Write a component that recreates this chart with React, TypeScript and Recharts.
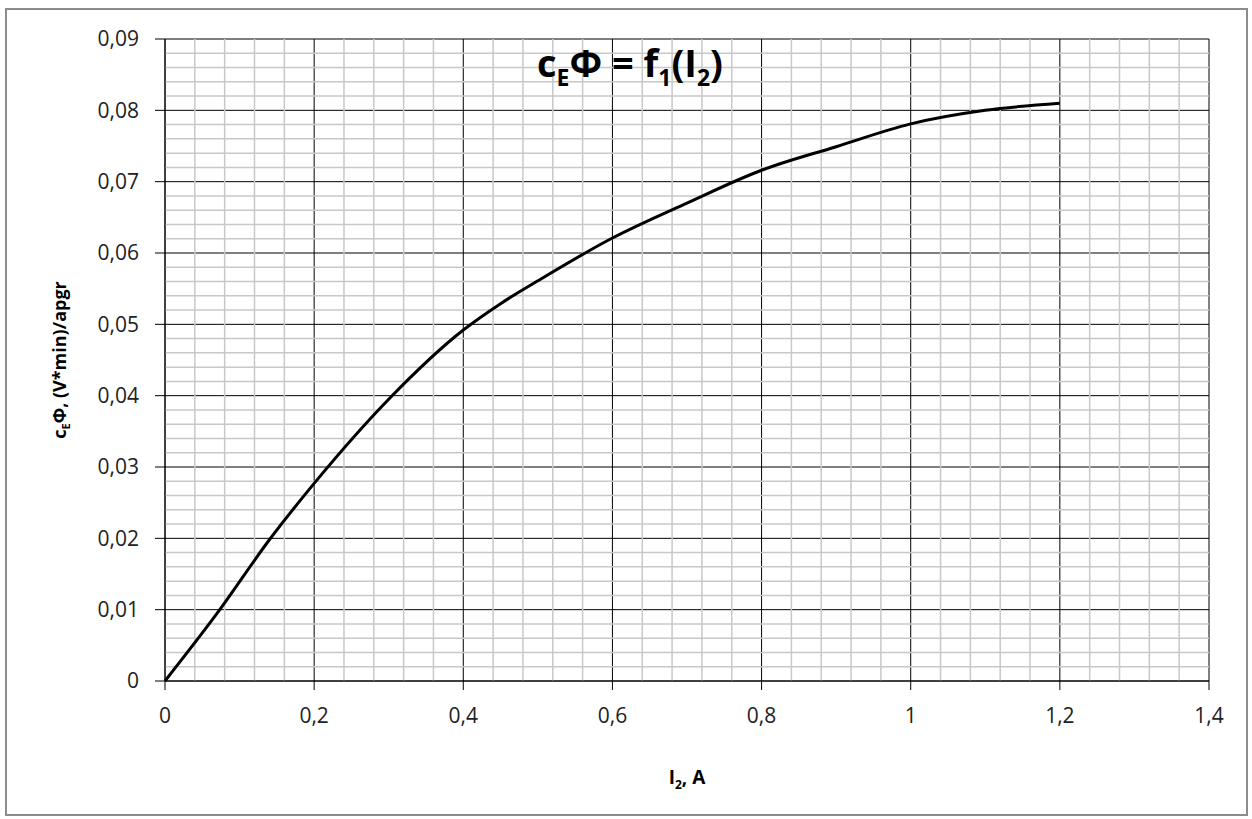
import React from 'react';
import { LineChart, Line, XAxis, YAxis, CartesianGrid, ReferenceLine } from 'recharts';

// I2, A
const currents = [0, 0.07, 0.14, 0.2, 0.3, 0.4, 0.45, 0.5, 0.6, 0.7, 0.8, 0.9, 1.0, 1.1, 1.2];
// cE*Phi, (V*min)/apgr
const flux = [0, 0.0095, 0.0198, 0.0277, 0.0395, 0.0492, 0.0529, 0.0561, 0.0621, 0.067, 0.0716, 0.0749, 0.0781, 0.08, 0.081];

const xTicks = [0, 0.2, 0.4, 0.6, 0.8, 1, 1.2, 1.4];
const yTicks = [0, 0.01, 0.02, 0.03, 0.04, 0.05, 0.06, 0.07, 0.08, 0.09];

const data = currents.map((i, k) => ({ i, f: flux[k] }));

// minor grid: 5 steps between major lines
const minorX: number[] = [];
for (let k = 1; k < 35; k++) if (k % 5 !== 0) minorX.push(Math.round(k * 40) / 1000);
const minorY: number[] = [];
for (let k = 1; k < 45; k++) if (k % 5 !== 0) minorY.push(Math.round(k * 2) / 1000);

const fmt = (v: number) => String(v).replace('.', ',');
const font = '"Open Sans", sans-serif';

const App: React.FC = () => {
  return (
    <div style={{ position: 'absolute', left: 0, top: 0, width: 1252, height: 819, background: '#fff', fontFamily: font }}>
      <div style={{ position: 'absolute', left: 5, top: 8, width: 1239, height: 804, border: '2px solid #8c8c8c' }} />
      <div style={{ position: 'absolute', left: 0, top: 0 }}>
        <LineChart width={1252} height={819} data={data} margin={{ top: 39, right: 43, left: 0, bottom: 0 }}>
          <CartesianGrid stroke="#000" strokeWidth={1} />
          {minorX.map((v) => (
            <ReferenceLine key={'x' + v} x={v} stroke="#c8c8c8" strokeWidth={1.5} />
          ))}
          {minorY.map((v) => (
            <ReferenceLine key={'y' + v} y={v} stroke="#c8c8c8" strokeWidth={1.5} />
          ))}
          <XAxis
            dataKey="i"
            type="number"
            domain={[0, 1.4]}
            ticks={xTicks}
            tickFormatter={fmt}
            height={138}
            tickSize={9}
            tickMargin={18}
            fontSize={21}
            axisLine={{ stroke: '#000' }}
            tickLine={{ stroke: '#000' }}
            tick={{ fill: '#222', fontSize: 21, fontFamily: font }}
            interval={0}
          />
          <YAxis
            type="number"
            domain={[0, 0.09]}
            ticks={yTicks}
            tickFormatter={fmt}
            width={165}
            tickSize={10}
            tickMargin={16}
            fontSize={21}
            axisLine={{ stroke: '#000' }}
            tickLine={{ stroke: '#000' }}
            tick={{ fill: '#222', fontSize: 21, fontFamily: font }}
            interval={0}
          />
          <Line type="monotone" dataKey="f" stroke="#000" strokeWidth={3} dot={false} isAnimationActive={false} />
        </LineChart>
      </div>
      <div style={{ position: 'absolute', left: 430, width: 400, top: 37, textAlign: 'center', fontSize: 38, fontWeight: 700, color: '#000', lineHeight: '50px' }}>
        c<sub style={{ fontSize: 23 }}>E</sub>Φ = f<sub style={{ fontSize: 23 }}>1</sub>(I<sub style={{ fontSize: 23 }}>2</sub>)
      </div>
      <div style={{ position: 'absolute', left: 487, width: 400, top: 764, textAlign: 'center', fontSize: 19, fontWeight: 700, color: '#000' }}>
        I<sub style={{ fontSize: 12 }}>2</sub>, A
      </div>
      <svg width={120} height={819} style={{ position: 'absolute', left: 0, top: 0 }}>
        <text
          x={66}
          y={360}
          transform="rotate(-90 66 360)"
          textAnchor="middle"
          fontFamily={font}
          fontSize={18}
          fontWeight={700}
          fill="#000"
        >
          c<tspan fontSize={11} dy={4}>E</tspan>
          <tspan dy={-4}>Φ, (V*min)/apgr</tspan>
        </text>
      </svg>
    </div>
  );
};

export default App;
